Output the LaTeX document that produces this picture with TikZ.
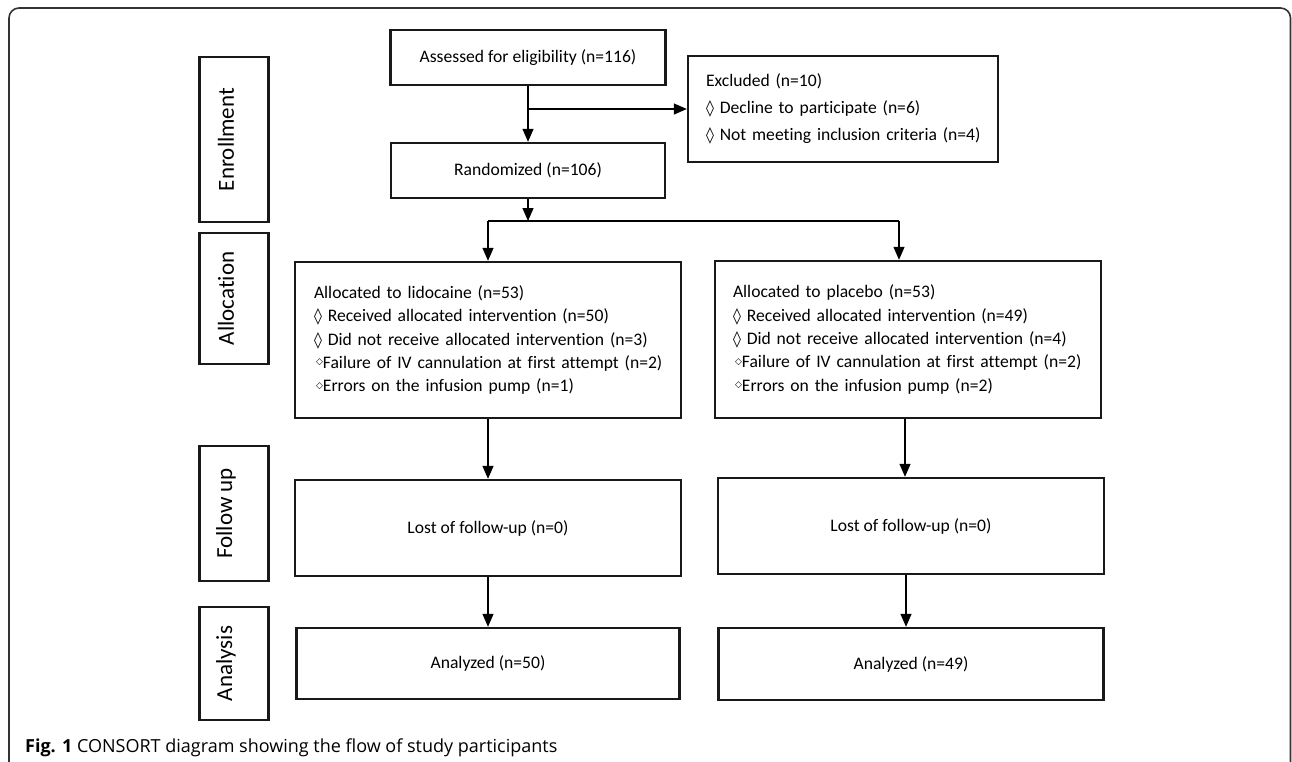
\documentclass[tikz,border=0pt]{standalone}
\usepackage{fontspec}
\setmainfont{Carlito}[Ligatures=CommonOff]
\newfontfamily\capfont{Open Sans}
\newfontfamily\symfont{DejaVu Sans}
\usetikzlibrary{arrows.meta}
\newcommand{\bigdia}{{\symfont\fontsize{16}{16}\selectfont ◊}}
\newcommand{\smalldia}{\hspace*{2pt}\raisebox{3.5pt}{\symfont\fontsize{9}{9}\selectfont ◇}}

\begin{document}
\begin{tikzpicture}[x=1pt, y=-1pt,
        box/.style={draw=black!90, line width=2.4pt, inner sep=0pt, font=\fontsize{17.6}{23.3}\selectfont},
        lab/.style={draw=black!90, line width=2.4pt, rotate=90, inner sep=0pt,
            minimum width=#1, minimum height=69pt, font=\fontsize{23}{23}\selectfont},
        flow/.style={line width=1.3pt, -{Triangle[length=13pt, width=11pt]}}]
        \useasboundingbox (0, 0) rectangle (1292, 761);
        % draw frame of the figure
        \path[draw=black!80, line width=1.6pt, rounded corners=10pt] (9, 8) rectangle (1290.5, 775);
        % add phase labels
        \foreach \txt/\yc/\ht [count=\i] in {
            Enrollment/139.5/165, Allocation/298.5/131, Follow up/513.5/135, Analysis/663.5/113
        }{
            \node[lab=\ht] (lab\i) at (234, \yc) {\txt};
        }
        % enrollment boxes
        \node[box, minimum width=275pt, minimum height=55pt] (assess) at (528, 57.5) {Assessed for eligibility (n=116)};
        \node[box, minimum width=274pt, minimum height=55pt] (rand) at (528, 170.5) {Randomized (n=106)};
        \node[box, minimum width=310pt, minimum height=106pt, text width=274pt, align=left,
            font=\fontsize{17.6}{26.7}\selectfont] (excl) at (843, 109) {Excluded (n=10)\\
            \mbox{\bigdia{} Decline to participate (n=6)}\\
            \mbox{\bigdia{} Not meeting inclusion criteria (n=4)}};
        % allocation boxes
        \node[box, minimum width=386pt, minimum height=156pt, text width=348pt, align=left] (lido) at (488, 340) {Allocated to lidocaine (n=53)\\
            \mbox{\bigdia{} Received allocated intervention (n=50)}\\
            \mbox{\bigdia{} Did not receive allocated intervention (n=3)}\\
            \mbox{\smalldia Failure of IV cannulation at first attempt (n=2)}\\
            \mbox{\smalldia Errors on the infusion pump (n=1)}};
        \node[box, minimum width=386pt, minimum height=157pt, text width=350pt, align=left] (plac) at (908, 339.5) {Allocated to placebo (n=53)\\
            \mbox{\bigdia{} Received allocated intervention (n=49)}\\
            \mbox{\bigdia{} Did not receive allocated intervention (n=4)}\\
            \mbox{\smalldia Failure of IV cannulation at first attempt (n=2)}\\
            \mbox{\smalldia Errors on the infusion pump (n=2)}};
        % follow up and analysis boxes
        \node[box, minimum width=386pt, minimum height=96pt] (lostL) at (488, 528) {Lost of follow-up (n=0)};
        \node[box, minimum width=386pt, minimum height=96pt] (lostR) at (911, 526) {Lost of follow-up (n=0)};
        \node[box, minimum width=383pt, minimum height=71pt] (anaL) at (488, 663.5) {Analyzed (n=50)};
        \node[box, minimum width=385pt, minimum height=72pt] (anaR) at (911, 664) {Analyzed (n=49)};
        % draw arrows
        \coordinate (split) at (528, 221);
        \draw[flow] (assess) -- (rand);
        \draw[flow] (assess.south |- excl.west) -- (excl.west);
        \draw[flow] (rand) -- (split);
        \draw[line width=1.3pt] (lido.north |- split) -- ([xshift=-9pt]plac.north |- split);
        \draw[flow] (lido.north |- split) -- (lido.north);
        \draw[flow] ([xshift=-9pt]plac.north |- split) -- ([xshift=-9pt]plac.north);
        \draw[flow] (lido) -- (lostL);
        \draw[flow] ([xshift=-3pt]plac.south) -- ([xshift=-6pt]lostR.north);
        \draw[flow] (lostL) -- (anaL);
        \draw[flow] ([xshift=-5pt]lostR.south) -- ([xshift=-5pt]anaR.north);
        % add caption
        \node[anchor=west, inner sep=0pt, font=\capfont\fontsize{18}{18}\selectfont] (caption) at (25, 748)
            {\textbf{Fig. 1} CONSORT diagram showing the flow of study participants};
    \end{tikzpicture}
\end{document}
